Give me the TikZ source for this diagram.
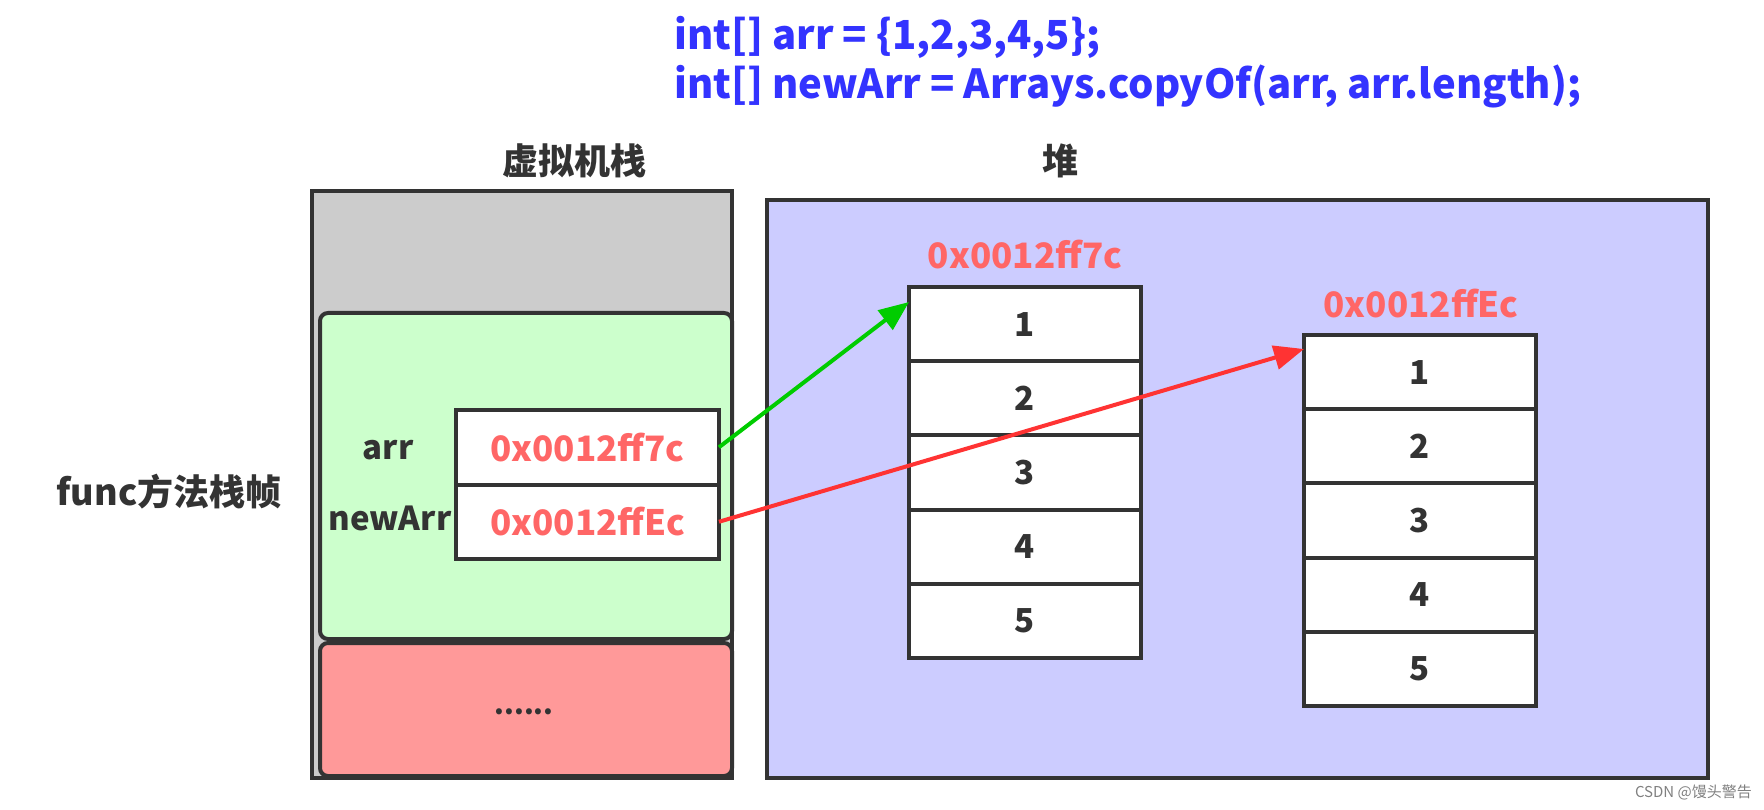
\documentclass[tikz,border=0pt]{standalone}
\usepackage{fontspec}
\setmainfont{Noto Sans CJK SC}
\usetikzlibrary{arrows.meta}
\definecolor{edge}{HTML}{333333}
\definecolor{grayfill}{HTML}{CCCCCC}
\definecolor{greenfill}{HTML}{CCFFCC}
\definecolor{redfill}{HTML}{FF9999}
\definecolor{heapfill}{HTML}{CCCCFF}
\definecolor{codeblue}{HTML}{3333FF}
\definecolor{addr}{HTML}{FF6666}
\definecolor{arrgreen}{HTML}{00CC00}
\definecolor{arrred}{HTML}{FF3333}
\tikzset{
  box/.style={draw=edge, line width=4pt, inner sep=0pt, outer sep=0pt, anchor=north west},
  cell/.style={box, fill=white, minimum width=232pt, minimum height=74.2pt, font=\fontsize{33}{35}\selectfont\bfseries, text=edge},
  refcell/.style={box, fill=white, minimum width=263pt, minimum height=74.5pt, font=\fontsize{35}{37}\selectfont\bfseries, text=addr},
  lbl/.style={font=\fontsize{33}{35}\selectfont\bfseries, text=edge, inner sep=0pt},
  addrlbl/.style={font=\fontsize{35}{37}\selectfont\bfseries, text=addr, inner sep=0pt},
  codetxt/.style={anchor=west, inner sep=0pt, text=codeblue, font=\fontsize{40}{42}\selectfont\bfseries},
  ptr/.style={line width=4pt, -{Triangle[length=30pt,width=24pt]}}
}
\begin{document}
\begin{tikzpicture}[x=1pt,y=-1pt]
\useasboundingbox (0,0) rectangle (1764,810);
% code
\node[codetxt] (code1) at (674,37) {int[] arr = \{1,2,3,4,5\};};
\node[codetxt] (code2) at (674,86) {int[] newArr = Arrays.copyOf(arr, arr.length);};
% titles
\node[lbl, font=\fontsize{36}{38}\selectfont\bfseries] (stacktitle) at (574,161) {虚拟机栈};
\node[lbl, font=\fontsize{36}{38}\selectfont\bfseries] (heaptitle) at (1060,161) {堆};
% stack
\node[box, fill=grayfill, minimum width=420pt, minimum height=587pt] (stack) at (312,191) {};
\node[box, fill=greenfill, rounded corners=8pt, minimum width=412pt, minimum height=326pt] (frame) at (320,313) {};
\node[box, fill=redfill, rounded corners=8pt, minimum width=412pt, minimum height=133pt] (rest) at (320,643) {};
\node[lbl, font=\fontsize{28}{30}\selectfont\bfseries] (dots) at (524,712) {......};
\node[refcell] (r1) at (456,410) {0x0012ff7c};
\node[refcell] (r2) at (456,484.5) {0x0012ffEc};
\node[lbl] (arrlbl) at (388,450) {arr};
\node[lbl] (newarrlbl) at (390,518) {newArr};
\node[lbl, font=\fontsize{36}{38}\selectfont\bfseries] (funclbl) at (169,492) {func方法栈帧};
% heap
\node[box, fill=heapfill, minimum width=941pt, minimum height=578pt] (heap) at (767,200) {};
\node[addrlbl] (alabel) at (1025,255) {0x0012ff7c};
\node[addrlbl] (blabel) at (1421,304) {0x0012ffEc};
\foreach \i in {1,...,5}{
  \node[cell] (a\i) at (909,{287+(\i-1)*74.2}) {\i};
  \node[cell] (b\i) at (1304,{335+(\i-1)*74.2}) {\i};
}
% pointers
\draw[ptr, arrgreen] (r1.east) -- ([yshift=-15pt]a1.north west);
\draw[ptr, arrred] (r2.east) -- ([yshift=-14pt]b1.north west);
% watermark
\node[anchor=east, inner sep=0pt, text=gray, font=\fontsize{15}{16}\selectfont] (wm) at (1752,792) {CSDN @馒头警告};
\end{tikzpicture}
\end{document}
